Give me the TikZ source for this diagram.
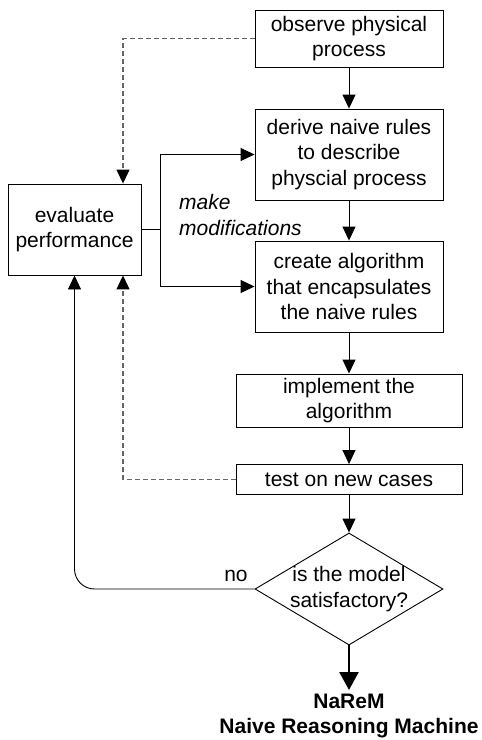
\documentclass[tikz,border=0pt]{standalone}
\usepackage{fontspec}
\setmainfont{Liberation Sans}
\usetikzlibrary{arrows.meta,shapes.geometric}
\begin{document}
\begin{tikzpicture}[x=1pt,y=-1pt,
  txt/.style={inner sep=0pt, align=center, font=\fontsize{21}{25.5}\selectfont},
  box/.style={txt, draw, line width=0.9pt},
  flow/.style={line width=0.9pt, -{Triangle[length=14pt,width=13pt]}},
  back/.style={line width=1.2pt, black!60, dash pattern=on 5pt off 3pt, -{Triangle[length=14pt,width=13pt,color=black]}},
  bigflow/.style={line width=2.6pt, -{Triangle[length=18pt,width=19pt]}}]
\useasboundingbox (0,0) rectangle (482,740);
\node[box, minimum width=188pt, minimum height=57pt] (obs) at (349,38.5) {observe physical\\process};
\node[box, minimum width=188pt, minimum height=91pt] (der) at (349,154.5) {derive naive rules\\to describe\\physcial process};
\node[box, minimum width=133pt, minimum height=91pt] (ev) at (74.5,229.5) {evaluate\\performance};
\node[box, minimum width=188pt, minimum height=91pt] (cre) at (349,286.5) {create algorithm\\that encapsulates\\the naive rules};
\node[box, minimum width=226pt, minimum height=53pt] (imp) at (349,400.5) {implement the\\algorithm};
\node[box, minimum width=226pt, minimum height=30pt] (test) at (349,479.5) {test on new cases};
\node[draw, diamond, line width=0.9pt, minimum width=188pt, minimum height=112pt, inner sep=0pt] (dia) at (349,589) {};
\node[txt] (diat) at (349,589) {is the model\\satisfactory?};
\node[txt, font=\fontsize{21}{25.5}\selectfont\bfseries] (nar) at (349,716) {NaReM\\Naive Reasoning Machine};
\coordinate (narin) at (349,690);
\node[txt, font=\fontsize{21}{25.5}\selectfont\itshape, anchor=west, align=left] (mm) at (179,215) {make\\modifications};
\node[txt] (no) at (236,576) {no};

\draw[flow] (obs) -- (der);
\draw[flow] (der) -- (cre);
\draw[flow] (cre) -- (imp);
\draw[flow] (imp) -- (test);
\draw[flow] (test) -- (dia);
\draw[bigflow] (dia.south) -- (narin);
\draw[flow] (ev.east) -- ++(19,0) |- (der.west);
\draw[flow] (ev.east) -- ++(19,0) |- (cre.west);
\draw[back] (obs.west) -| ([xshift=48.5pt]ev.north);
\draw[back] (test.west) -| ([xshift=48.5pt]ev.south);
\draw[flow, rounded corners=20pt] (dia.west) -| (ev.south);
\end{tikzpicture}
\end{document}
